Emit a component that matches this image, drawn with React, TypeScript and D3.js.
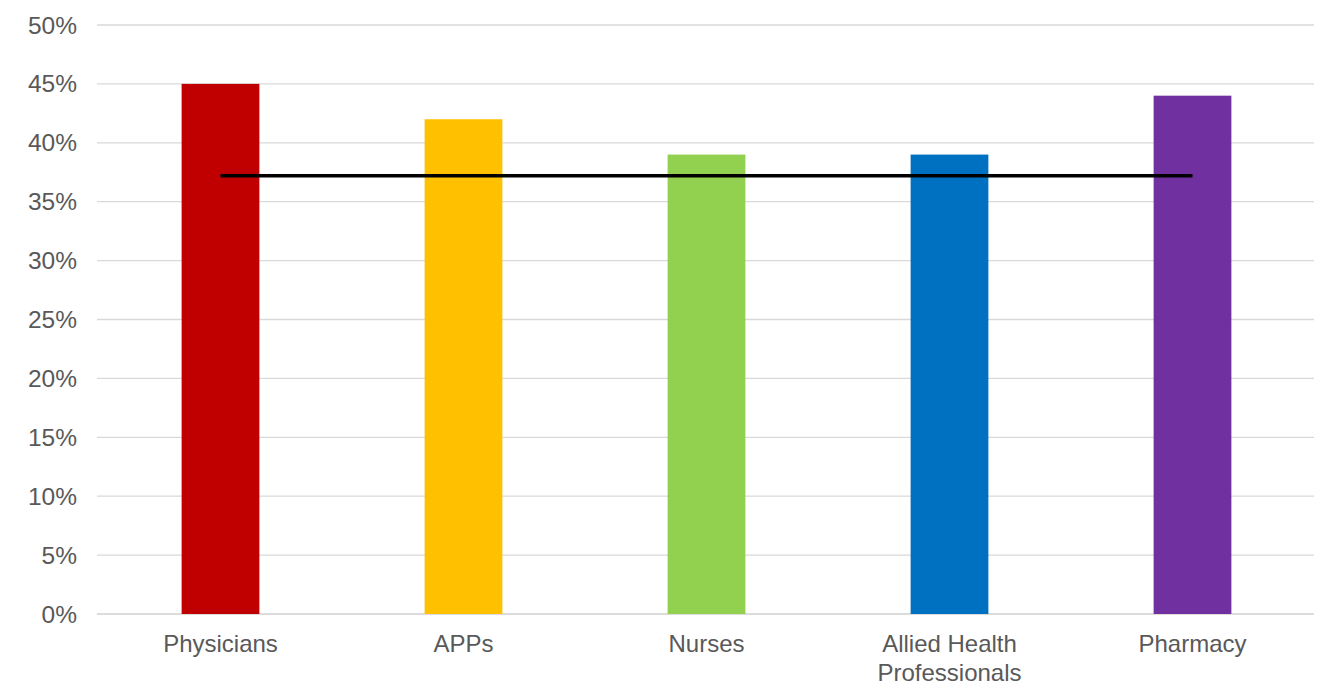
import React from "react";
import * as d3 from "d3";

const categories: string[][] = [["Physicians"], ["APPs"], ["Nurses"], ["Allied Health", "Professionals"], ["Pharmacy"]];
const values: number[] = [0.45, 0.42, 0.39, 0.39, 0.44];
const colors: string[] = ["#C00000", "#FFC000", "#92D050", "#0070C0", "#7030A0"];
const averageValue = 0.372;
const yTicks: number[] = [0, 0.05, 0.1, 0.15, 0.2, 0.25, 0.3, 0.35, 0.4, 0.45, 0.5];

const W = 1322;
const H = 685;
const left = 99;
const right = 1314;
const top = 25;
const bottom = 614;

export default function App() {
  const keys = categories.map((c) => c.join(" "));
  const x = d3.scaleBand<string>().domain(keys).range([left, right]).paddingInner(0.68).paddingOuter(0.34);
  const y = d3.scaleLinear().domain([0, 0.5]).range([bottom, top]);
  const fmt = d3.format(".0%");
  const lineGen = d3.line<[number, number]>().x((d) => d[0]).y((d) => d[1]);
  const x0 = x(keys[0])! + x.bandwidth() / 2;
  const x1 = x(keys[keys.length - 1])! + x.bandwidth() / 2;
  return (
    <svg width={W} height={H} style={{ position: "absolute", left: 0, top: 0, background: "#fff" }}
      fontFamily="'Liberation Sans', Arial, sans-serif">
      {yTicks.map((t) => (
        <g key={t}>
          <line x1={97} x2={right} y1={y(t)} y2={y(t)} stroke={t === 0 ? "#D0D0D0" : "#D9D9D9"} strokeWidth={1.3} />
          <text x={77} y={y(t)} dy="0.35em" textAnchor="end" fontSize={24.5} fill="#595959">{fmt(t)}</text>
        </g>
      ))}
      {keys.map((k, i) => (
        <rect key={k} x={x(k)} y={y(values[i])} width={x.bandwidth()} height={y(0) - y(values[i])} fill={colors[i]} />
      ))}
      <path d={lineGen([[x0, y(averageValue)], [x1, y(averageValue)]]) || ""} stroke="#000" strokeWidth={3.5} fill="none" />
      {categories.map((lines, i) => (
        <text key={i} x={x(keys[i])! + x.bandwidth() / 2} y={652} textAnchor="middle" fontSize={24} fill="#595959">
          {lines.map((l, j) => (
            <tspan key={j} x={x(keys[i])! + x.bandwidth() / 2} dy={j === 0 ? 0 : 29}>{l}</tspan>
          ))}
        </text>
      ))}
    </svg>
  );
}
